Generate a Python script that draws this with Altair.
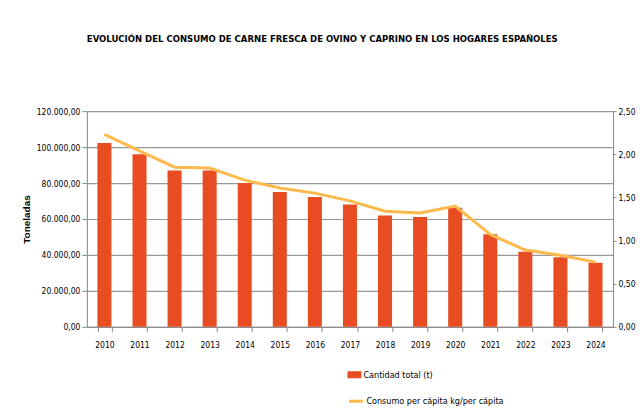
import altair as alt
import pandas as pd

years = ["2010", "2011", "2012", "2013", "2014", "2015", "2016", "2017",
         "2018", "2019", "2020", "2021", "2022", "2023", "2024"]
toneladas = [102300, 96000, 87000, 87000, 80000, 75000, 72300, 68000,
             62000, 61100, 66300, 51500, 41700, 38700, 35600]
per_capita = [2.23, 2.04, 1.85, 1.84, 1.70, 1.61, 1.55, 1.46,
              1.34, 1.32, 1.40, 1.07, 0.89, 0.83, 0.75]

bar_name = "Cantidad total (t)"
line_name = "Consumo per cápita kg/per cápita"

df = pd.DataFrame({"year": years, "t": toneladas, "pc": per_capita,
                   "s_bar": bar_name, "s_line": line_name})

FONT = "DejaVu Sans Condensed, Liberation Sans, sans-serif"

x = alt.X("year:N", title=None, sort=None,
          scale=alt.Scale(paddingInner=0.6, paddingOuter=0.3),
          axis=alt.Axis(labelAngle=0, tickBand="extent", labelFont=FONT,
                        labelFontSize=8.5, labelColor="#000", labelPadding=9,
                        domainColor="#888", tickColor="#888", tickSize=5,
                        grid=False))

bars = alt.Chart(df).mark_bar(color="#E84C22").encode(
    x=x,
    y=alt.Y("t:Q", title="Toneladas",
            scale=alt.Scale(domain=[0, 120000]),
            axis=alt.Axis(values=[0, 20000, 40000, 60000, 80000, 100000, 120000],
                          labelExpr="replace(replace(replace(format(datum.value, ',.2f'), ',', '_'), '.', ','), '_', '.')",
                          labelFont=FONT, labelFontSize=8.5, labelColor="#000",
                          titleFont="Liberation Sans", titleFontSize=10,
                          titleFontWeight="bold", titleColor="#000",
                          titlePadding=5,
                          domainColor="#888", tickColor="#888", tickSize=5,
                          gridColor="#999", gridWidth=1.2)),
    fill=alt.Fill("s_bar:N", title=None,
                  scale=alt.Scale(domain=[bar_name], range=["#E84C22"]),
                  legend=alt.Legend(orient="none", legendX=261, legendY=257,
                                    symbolType="M-1,-0.5H1V0.5H-1Z",
                                    symbolSize=196, symbolStrokeWidth=0,
                                    labelFont=FONT, labelFontSize=9,
                                    labelColor="#000", labelOffset=2,
                                    padding=0)),
)

line = alt.Chart(df).mark_line(strokeWidth=3, color="#FDB94B").encode(
    x=x,
    y=alt.Y("pc:Q", title=None,
            scale=alt.Scale(domain=[0, 2.5]),
            axis=alt.Axis(orient="right", values=[0, 0.5, 1.0, 1.5, 2.0, 2.5],
                          labelExpr="replace(format(datum.value, '.2f'), '.', ',')",
                          labelFont=FONT, labelFontSize=8.5, labelColor="#000",
                          labelPadding=2,
                          domainColor="#888", tickColor="#888", tickSize=3,
                          grid=False)),
    stroke=alt.Stroke("s_line:N", title=None,
                      scale=alt.Scale(domain=[line_name], range=["#FDB94B"]),
                      legend=alt.Legend(orient="none", legendX=261, legendY=282,
                                        symbolType="stroke", symbolSize=196,
                                        symbolStrokeWidth=3,
                                        labelFont=FONT, labelFontSize=9,
                                        labelColor="#000", labelOffset=2,
                                        padding=0)),
)

chart = alt.layer(bars, line).resolve_scale(
    y="independent", fill="independent", stroke="independent"
).properties(
    width=527, height=216,
    padding={"top": 25, "left": 13, "right": 0, "bottom": 5},
    title=alt.TitleParams(
        "EVOLUCIÓN DEL CONSUMO DE CARNE FRESCA DE OVINO Y CAPRINO EN LOS HOGARES ESPAÑOLES",
        anchor="start", frame="group", font=FONT, fontSize=9.5,
        fontWeight="bold", color="#000", offset=64),
).configure_view(stroke=None)

chart.save("out.html", embed_options={"renderer": "svg", "actions": False})
